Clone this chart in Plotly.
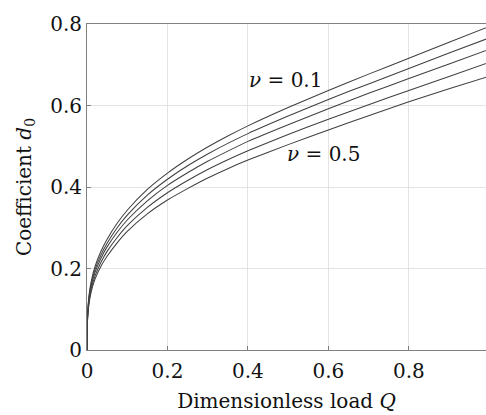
import plotly.graph_objects as go

Q = [0, 0.0005, 0.002, 0.005, 0.01, 0.02, 0.035, 0.05, 0.075, 0.1, 0.15, 0.2, 0.25, 0.3, 0.35, 0.4, 0.5, 0.6, 0.7, 0.8, 0.9, 1.0]
d0_nu01 = [0, 0.062, 0.098, 0.134, 0.166, 0.205, 0.243, 0.272, 0.311, 0.343, 0.394, 0.434, 0.468, 0.498, 0.525, 0.550, 0.595, 0.637, 0.677, 0.716, 0.755, 0.794]
d0_nu02 = [0, 0.060, 0.095, 0.129, 0.160, 0.198, 0.234, 0.262, 0.300, 0.331, 0.380, 0.419, 0.452, 0.481, 0.507, 0.531, 0.574, 0.615, 0.653, 0.691, 0.729, 0.766]
d0_nu03 = [0, 0.058, 0.091, 0.125, 0.154, 0.191, 0.226, 0.253, 0.289, 0.319, 0.366, 0.404, 0.435, 0.463, 0.488, 0.512, 0.553, 0.592, 0.630, 0.666, 0.702, 0.738]
d0_nu04 = [0, 0.055, 0.087, 0.119, 0.148, 0.182, 0.216, 0.242, 0.276, 0.305, 0.350, 0.386, 0.416, 0.443, 0.467, 0.489, 0.529, 0.566, 0.602, 0.637, 0.671, 0.706]
d0_nu05 = [0, 0.053, 0.083, 0.113, 0.141, 0.174, 0.206, 0.230, 0.263, 0.291, 0.334, 0.368, 0.396, 0.422, 0.445, 0.466, 0.504, 0.540, 0.575, 0.609, 0.641, 0.672]
series = [d0_nu01, d0_nu02, d0_nu03, d0_nu04, d0_nu05]

x_ticks = [0, 0.2, 0.4, 0.6, 0.8, 1.0]
x_tick_labels = ["0", "0.2", "0.4", "0.6", "0.8", "1"]
y_ticks = [0, 0.2, 0.4, 0.6, 0.8]
y_tick_labels = ["0", "0.2", "0.4", "0.6", "0.8"]

FONT = "DejaVu Serif"

fig = go.Figure()
for s in series:
    fig.add_trace(go.Scatter(x=Q, y=s, mode="lines",
                             line=dict(color="#404040", width=1.05, shape="spline", smoothing=0.5),
                             showlegend=False, hoverinfo="skip"))

fig.add_annotation(x=0.494, y=0.663, text="<i>ν</i> = 0.1", showarrow=False,
                   font=dict(family=FONT, size=20, color="#111"))
fig.add_annotation(x=0.588, y=0.481, text="<i>ν</i> = 0.5", showarrow=False,
                   font=dict(family=FONT, size=20, color="#111"))

axis_common = dict(showgrid=True, gridcolor="#e3e3e3", gridwidth=1,
                   showline=True, linecolor="#808080", linewidth=1,
                   ticks="inside", ticklen=4, tickcolor="#808080",
                   zeroline=False, automargin=False,
                   tickfont=dict(family=FONT, size=20, color="#111"))

fig.update_xaxes(range=[0, 0.9918], tickvals=x_ticks, ticktext=x_tick_labels,
                 mirror=True, ticklabelstandoff=3,
                 title=dict(text="Dimensionless load <i>Q</i>",
                            font=dict(family=FONT, size=20, color="#111"), standoff=11),
                 **axis_common)
fig.update_yaxes(range=[0, 0.8], tickvals=y_ticks, ticktext=y_tick_labels,
                 mirror=False,
                 title=dict(text="Coefficient <i>d</i><sub>0</sub>",
                            font=dict(family=FONT, size=20, color="#111"), standoff=13),
                 **axis_common)

fig.update_layout(width=486, height=415,
                  margin=dict(l=87, r=0, t=24, b=65),
                  paper_bgcolor="white", plot_bgcolor="white")

fig.write_html("out.html", config={"displayModeBar": False},
               post_script="document.body.style.margin='0';document.body.style.overflow='hidden';")
